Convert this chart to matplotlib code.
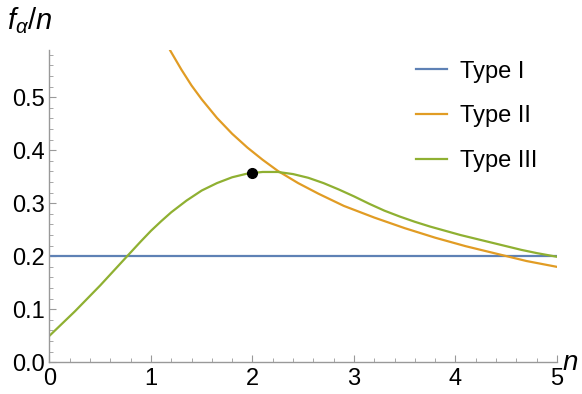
import matplotlib
matplotlib.use("Agg")
import matplotlib.pyplot as plt
from matplotlib.ticker import MultipleLocator

plt.rcParams['font.family'] = ['Liberation Sans', 'DejaVu Sans']
plt.rcParams['mathtext.fontset'] = 'custom'
plt.rcParams['mathtext.it'] = 'Liberation Sans:italic'
plt.rcParams['mathtext.rm'] = 'Liberation Sans'

# valeurs
n_I = [0.0, 5.0]
y_I = [0.2, 0.2]

n_II = [1.19, 1.30, 1.40, 1.50, 1.65, 1.80, 1.95, 2.10, 2.25, 2.45, 2.65,
        2.90, 3.20, 3.50, 3.80, 4.10, 4.40, 4.70, 5.0]
y_II = [0.588, 0.552, 0.522, 0.496, 0.461, 0.431, 0.405, 0.382, 0.361, 0.338,
        0.318, 0.295, 0.273, 0.253, 0.235, 0.219, 0.205, 0.191, 0.180]

n_III = [0.0, 0.25, 0.50, 0.76, 0.90, 1.00, 1.10, 1.20, 1.35, 1.50, 1.65,
         1.80, 1.95, 2.10, 2.25, 2.40, 2.55, 2.70, 2.85, 3.00, 3.15, 3.30,
         3.45, 3.60, 3.75, 3.90, 4.05, 4.20, 4.35, 4.50, 4.65, 4.80, 5.0]
y_III = [0.050, 0.096, 0.145, 0.199, 0.228, 0.248, 0.266, 0.283, 0.305, 0.324,
         0.338, 0.349, 0.356, 0.359, 0.359, 0.355, 0.348, 0.338, 0.326, 0.313,
         0.299, 0.286, 0.275, 0.265, 0.256, 0.248, 0.240, 0.233, 0.226, 0.219,
         0.212, 0.206, 0.199]

dot_n = [2.0]
dot_y = [0.357]

c_I = "#5E81B5"
c_II = "#E19C24"
c_III = "#8FB032"

fig = plt.figure(figsize=(5.82, 3.94), dpi=100)
ax = fig.add_axes([0.085, 0.0805, 0.872, 0.7925])

ax.plot(n_I, y_I, color=c_I, lw=1.6, label="Type I")
ax.plot(n_II, y_II, color=c_II, lw=1.6, label="Type II")
ax.plot(n_III, y_III, color=c_III, lw=1.6, label="Type III")
ax.plot(dot_n, dot_y, "o", color="black", ms=7, zorder=5)

ax.set_xlim(0, 5)
ax.set_ylim(0, 0.589)

for s in ["top", "right"]:
    ax.spines[s].set_visible(False)
for s in ["left", "bottom"]:
    ax.spines[s].set_color("#999999")
    ax.spines[s].set_linewidth(1.0)

ax.xaxis.set_major_locator(MultipleLocator(1))
ax.xaxis.set_minor_locator(MultipleLocator(0.2))
ax.yaxis.set_major_locator(MultipleLocator(0.1))
ax.yaxis.set_minor_locator(MultipleLocator(0.02))
ax.yaxis.set_major_formatter(plt.FuncFormatter(lambda v, p: "%.1f" % v))
ax.tick_params(which="both", direction="in", color="#999999", labelsize=17)
ax.tick_params(which="major", length=5, width=0.8)
ax.tick_params(which="minor", length=3, width=0.6)
ax.tick_params(axis="x", pad=4)
ax.tick_params(axis="y", pad=3)

fig.text(0.012, 0.948, r"$f_\alpha/n$", fontsize=21, va="center", ha="left")
fig.text(0.965, 0.078, r"$n$", fontsize=20, va="center", ha="left")

ax.legend(loc="upper left", bbox_to_anchor=(0.679, 0.90), bbox_transform=fig.transFigure,
          frameon=False, fontsize=17, handlelength=1.3, handletextpad=0.55,
          labelspacing=0.96)

fig.savefig("out.png", dpi=100)
